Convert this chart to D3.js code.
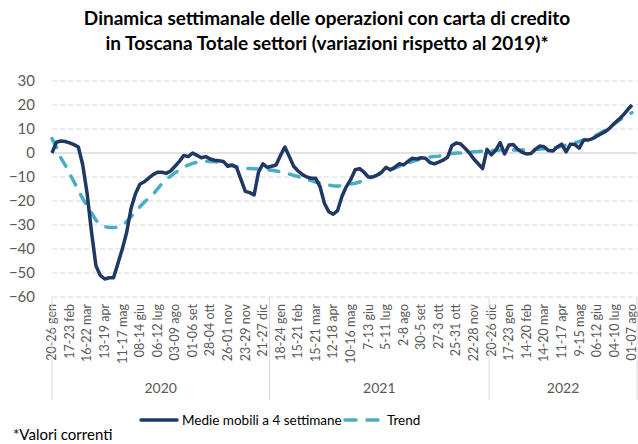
<!DOCTYPE html>
<html>
<head>
<meta charset="utf-8">
<script src="https://cdn.jsdelivr.net/npm/d3@7"></script>
<style>
  body { margin: 0; background: #fff; }
  svg { font-family: Lato, 'Open Sans', sans-serif; }
</style>
</head>
<body>
<main></main>
<script>
const width = 638; // width of svg
const height = 444; // height of svg

// tick labels on the x axis (one every 4 weeks)
const weekLabels = ['20-26 gen', '17-23 feb', '16-22 mar', '13-19 apr', '11-17 mag', '08-14 giu', '06-12 lug', '03-09 ago', '01-06 set', '28-04 ott', '26-01 nov', '23-29 nov', '21-27 dic',
  '18-24 gen', '15-21 feb', '15-21 mar', '12-18 apr', '10-16 mag', '7-13 giu', '5-11 lug', '2-8 ago', '30-5 set', '27-3 ott', '25-31 ott', '22-28 nov', '20-26 dic',
  '17-23 gen', '14-20 feb', '14-20 mar', '11-17 apr', '9-15 mag', '06-12 giu', '04-10 lug', '01-07 ago'];
const yearNames = ['2020', '2021', '2022'];
const yearWeeks = [50, 50, 33]; // number of weekly points under each year
const yTicks = [30, 20, 10, 0, -10, -20, -30, -40, -50, -60];

// weekly values (% change vs 2019)
const mediaMobile = [
  0, 4.5, 5, 4.8, 4.2, 3.5, 2.5, -5, -17, -33,
  -47, -51, -52.5, -52, -52, -46, -40, -33, -23, -17,
  -13, -12, -10.5, -9, -8, -8, -8.5, -7.5, -5.5, -3.5,
  -1, -1.5, 0, -1, -2, -1.5, -2.5, -3, -3.2, -3.5,
  -5.5, -5, -6, -11, -16, -16.5, -17.5, -8, -4.5, -6,
  -5.5, -5, -1, 2.5, -1.5, -5.5, -7.5, -9, -10, -10.5,
  -10.5, -14, -21, -24.5, -25.5, -24, -18, -14, -11, -7,
  -6.5, -8, -10, -10, -9.2, -8, -6, -7, -6, -4.5,
  -5, -3.5, -2.2, -2.5, -2, -2.2, -4, -4.5, -3.8, -3,
  -1.8, 3, 4.2, 3.8, 2, 0, -2.5, -4.5, -6.5, 1.5,
  -0.8, 1.2, 4.3, -0.4, 3.3, 3.5, 1.5, 0.3, -0.4, -0.2,
  1.5, 2.9, 2.6, 1, 0.8, 2.5, 3.7, 0.5, 3.7, 3.5,
  2, 5.4, 5.4, 6, 7, 8, 9, 10.5, 12.4, 14,
  15.8, 18, 20];
const trend = [
  6, 2.5, -2, -5, -8.5, -12, -15.5, -19, -22, -25,
  -28, -29.8, -30.7, -31, -31, -31, -30, -28.6, -26.5, -24.5,
  -22.4, -20.5, -18.8, -17.3, -15, -12.8, -11, -9.6, -8.3, -7,
  -5.8, -5, -4.3, -3.8, -3.5, -3.4, -3.5, -3.6, -4, -4.6,
  -5, -5.3, -5.7, -6.1, -6.4, -6.5, -6.6, -6.7, -6.8, -7,
  -7.2, -7.5, -7.8, -8.3, -8.8, -9.3, -9.8, -10.4, -11, -11.5,
  -12.1, -12.6, -13.1, -13.4, -13.7, -13.8, -13.6, -13.3, -12.9, -12.6,
  -12.1, -11.4, -10.6, -9.9, -9.2, -8.5, -7.8, -7, -6.3, -5.6,
  -4.9, -4.2, -3.6, -3, -2.4, -1.9, -1.7, -1.5, -1.3, -1,
  -0.6, -0.2, 0, 0, 0.1, 0.3, 0.5, 0.6, 0.8, 0.9,
  1, 1.1, 1.2, 1.3, 1.3, 1.3, 1.3, 1.3, 1.4, 1.4,
  1.5, 1.6, 1.8, 2, 2.2, 2.4, 2.8, 3.3, 3.8, 4.3,
  4.8, 5.4, 6.1, 6.8, 7.5, 8.5, 9.6, 10.8, 12.1, 13.5,
  14.8, 15.8, 16.8];

const plotLeft = 52;
const plotRight = 632;
const plotTop = 81;
const plotBottom = 297;

const svg = d3.select('main')
  .append('svg')
  .attr('width', width)
  .attr('height', height);

const x = d3.scaleLinear()
  .domain([0, mediaMobile.length - 1])
  .range([plotLeft, plotRight]);

const y = d3.scaleLinear()
  .domain([-60, 30])
  .range([plotBottom, plotTop]);

// title
svg.append('text')
  .attr('text-anchor', 'middle')
  .attr('font-size', 19)
  .attr('font-weight', 'bold')
  .attr('fill', '#000')
  .selectAll('tspan')
  .data(['Dinamica settimanale delle operazioni con carta di credito', 'in Toscana Totale settori (variazioni rispetto al 2019)*'])
  .enter()
  .append('tspan')
  .attr('x', 327)
  .attr('y', (d, i) => 25 + i * 25)
  .text(d => d);

// gridlines
svg.append('g')
  .selectAll('line')
  .data(yTicks)
  .enter()
  .append('line')
  .attr('x1', plotLeft)
  .attr('x2', plotRight + 5)
  .attr('y1', d => y(d))
  .attr('y2', d => y(d))
  .attr('stroke', '#d9d9d9')
  .attr('stroke-width', d => d === 0 ? 1.5 : 1)
  .attr('stroke-dasharray', d => d === 0 ? null : '5,3');

// y axis labels
const yAxis = svg.append('g')
  .attr('transform', 'translate(35,0)')
  .call(d3.axisLeft(y).tickValues(yTicks).tickSize(0).tickPadding(0));
yAxis.select('.domain').remove();
yAxis.selectAll('text')
  .attr('font-family', 'Lato, sans-serif')
  .attr('font-size', 15)
  .attr('fill', '#595959');

// x axis: week labels rotated
const xAxis = svg.append('g')
  .attr('transform', 'translate(0,' + plotBottom + ')')
  .call(d3.axisBottom(x)
    .tickValues(d3.range(0, mediaMobile.length, 4))
    .tickFormat((d, i) => weekLabels[i])
    .tickSize(0));
xAxis.select('.domain').remove();
xAxis.selectAll('text')
  .attr('font-family', 'Lato, sans-serif')
  .attr('font-size', 12.5)
  .attr('fill', '#595959')
  .attr('text-anchor', 'end')
  .attr('transform', 'translate(0,7) rotate(-90)')
  .attr('x', 0)
  .attr('y', 0)
  .attr('dy', '0.3em');

// year groups
let start = 0;
const yearData = yearNames.map((name, i) => {
  const g = { name: name, from: start, to: start + yearWeeks[i] - 1 };
  start += yearWeeks[i];
  return g;
});
const sepX = (d) => d.from === 0 ? x(0) : (x(d.from - 1) + x(d.from)) / 2;

svg.append('g')
  .selectAll('line')
  .data(yearData.concat([{ from: mediaMobile.length }]))
  .enter()
  .append('line')
  .attr('x1', d => d.from === mediaMobile.length ? x(d.from - 1) + 5 : sepX(d))
  .attr('x2', d => d.from === mediaMobile.length ? x(d.from - 1) + 5 : sepX(d))
  .attr('y1', plotBottom)
  .attr('y2', 400)
  .attr('stroke', '#d9d9d9')
  .attr('stroke-width', 1);

svg.append('g')
  .selectAll('text')
  .data(yearData)
  .enter()
  .append('text')
  .attr('x', d => {
    const end = d.to === mediaMobile.length - 1 ? x(d.to) + 5 : (x(d.to) + x(d.to + 1)) / 2;
    return (sepX(d) + end) / 2;
  })
  .attr('y', 393)
  .attr('text-anchor', 'middle')
  .attr('font-size', 14)
  .attr('fill', '#595959')
  .text(d => d.name);

// lines
const line = d3.line()
  .x((d, i) => x(i))
  .y(d => y(d));

svg.append('path')
  .datum(trend)
  .attr('d', line)
  .attr('fill', 'none')
  .attr('stroke', '#4bacc6')
  .attr('stroke-width', 3.5)
  .attr('stroke-linecap', 'round')
  .attr('stroke-dasharray', '10,11');

svg.append('path')
  .datum(mediaMobile)
  .attr('d', line)
  .attr('fill', 'none')
  .attr('stroke', '#1f3864')
  .attr('stroke-width', 3.5)
  .attr('stroke-linejoin', 'round');

// legend
const legend = svg.append('g');
legend.append('line')
  .attr('x1', 141).attr('x2', 177)
  .attr('y1', 420).attr('y2', 420)
  .attr('stroke', '#1f3864')
  .attr('stroke-width', 3.5)
  .attr('stroke-linecap', 'round');
legend.append('text')
  .attr('x', 182).attr('y', 425)
  .attr('font-size', 13.5)
  .attr('fill', '#000')
  .text('Medie mobili a 4 settimane');
legend.append('line')
  .attr('x1', 345).attr('x2', 381)
  .attr('y1', 420).attr('y2', 420)
  .attr('stroke', '#4bacc6')
  .attr('stroke-width', 3.5)
  .attr('stroke-linecap', 'round')
  .attr('stroke-dasharray', '11,11');
legend.append('text')
  .attr('x', 387).attr('y', 425)
  .attr('font-size', 13.5)
  .attr('fill', '#000')
  .text('Trend');

// note
svg.append('text')
  .attr('x', 13).attr('y', 440)
  .attr('font-size', 15)
  .attr('fill', '#000')
  .text('*Valori correnti');
</script>
</body>
</html>
